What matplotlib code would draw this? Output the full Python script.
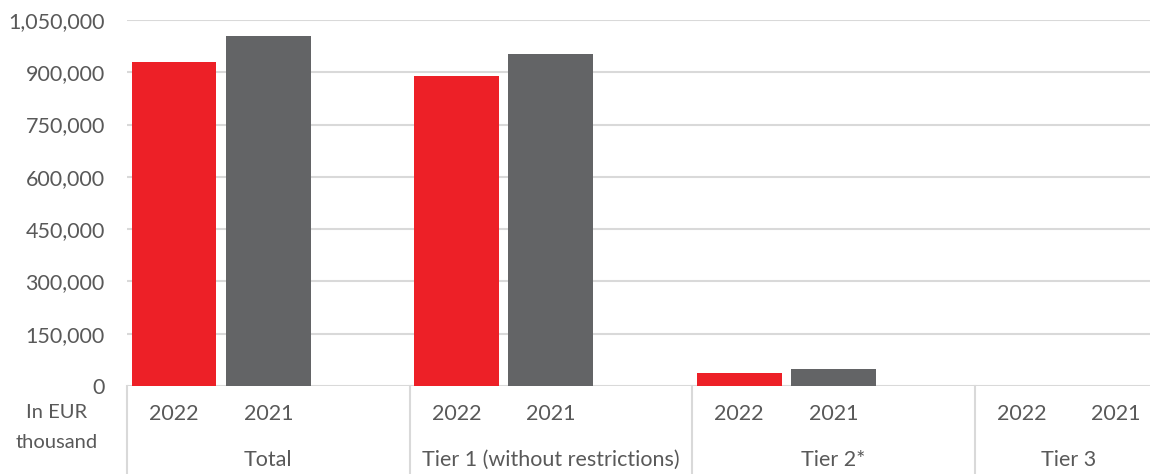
import matplotlib
matplotlib.use("Agg")
import matplotlib.pyplot as plt
import matplotlib.transforms as mtransforms

# data (EUR thousand)
groups = ["Total", "Tier 1 (without restrictions)", "Tier 2*", "Tier 3"]
years = ["2022", "2021"]
values_2022 = [929500, 889000, 38000, 0]
values_2021 = [1004000, 952500, 48500, 0]
yticks = [0, 150000, 300000, 450000, 600000, 750000, 900000, 1050000]

RED = "#ED2027"
GREY = "#636466"
GRID = "#D9D9D9"
TXT = "#595959"
FS = 15.5

plt.rcParams["font.family"] = ["Lato", "DejaVu Sans"]

W, H = 1150, 474
fig = plt.figure(figsize=(W / 100, H / 100), dpi=100)
left, right, top, bottom = 127, 1163, 20, 386
ax = fig.add_axes([left / W, (H - bottom) / H, (right - left) / W, (bottom - top) / H])

# three slots per group (last one blank), last group has only two
pos_2022 = [0, 3, 6, 9]
pos_2021 = [1, 4, 7, 10]
ax.bar(pos_2022, values_2022, width=0.9, color=RED, zorder=3)
ax.bar(pos_2021, values_2021, width=0.9, color=GREY, zorder=3)

ax.set_xlim(-0.5, 10.5)
ax.set_ylim(0, 1050000)
ax.set_yticks(yticks)
ax.set_yticklabels([f"{v:,}" for v in yticks])
ax.yaxis.grid(True, color=GRID, linewidth=1.5, zorder=0)
ax.set_axisbelow(True)
for s in ax.spines.values():
    s.set_visible(False)
ax.tick_params(axis="y", length=0, pad=16, labelsize=FS, labelcolor=TXT)

ticks = sorted(pos_2022 + pos_2021)
ax.set_xticks(ticks)
ax.set_xticklabels([years[0] if t in pos_2022 else years[1] for t in ticks])
ax.tick_params(axis="x", length=0, pad=13, labelsize=FS, labelcolor=TXT)

trans = mtransforms.blended_transform_factory(ax.transData, ax.transAxes)
px = 1.0 / (bottom - top)  # one pixel in axes fraction (vertical)
for x in [-0.5, 2.5, 5.5, 8.5, 10.5]:
    ax.plot([x, x], [0, -95 * px], color=GRID, linewidth=1.5,
            transform=trans, clip_on=False)

centers = [1.0, 4.0, 7.0, 9.5]
for c, g in zip(centers, groups):
    ax.text(c, -74 * px, g, transform=trans, ha="center", va="center",
            fontsize=FS, color=TXT)

fig.text(57 / W, (H - 413) / H, "In EUR", ha="center", va="center",
         fontsize=14.5, color=TXT)
fig.text(57 / W, (H - 442) / H, "thousand", ha="center", va="center",
         fontsize=14.5, color=TXT)

fig.savefig("out.png", dpi=100)
